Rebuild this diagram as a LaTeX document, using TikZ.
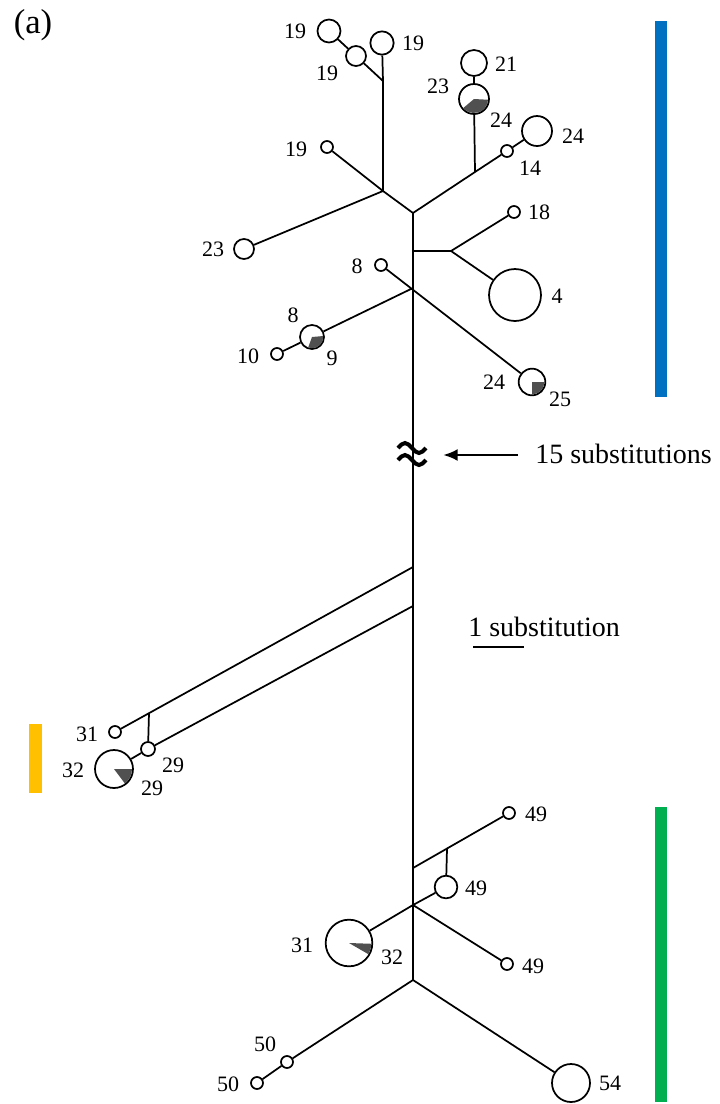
\documentclass[tikz,border=0pt]{standalone}
\usepackage{fontspec}
\setmainfont{Liberation Serif}
\usetikzlibrary{arrows.meta}
\definecolor{barblue}{HTML}{0070C0}
\definecolor{bargreen}{HTML}{00B050}
\definecolor{baryellow}{HTML}{FFC000}
\definecolor{piegray}{RGB}{80,80,80}
\begin{document}
\begin{tikzpicture}[x=0.75pt,y=-0.75pt,
  edge/.style={line width=1.3pt},
  hap/.style={circle,draw,line width=1.3pt,fill=white,inner sep=0pt,minimum size=#1},
  lbl/.style={font=\fontsize{16.5}{19}\selectfont,inner sep=0pt},
  big/.style={font=\fontsize{21}{25}\selectfont,inner sep=0pt},
  wedge/.style={fill=piegray}]
\useasboundingbox (0,0) rectangle (720,1104);

% group bars
\fill[barblue] (655,21) rectangle (667,397);
\fill[baryellow] (29,724) rectangle (42,793);
\fill[bargreen] (655,807) rectangle (667,1102);

\node[font=\fontsize{26}{30}\selectfont,inner sep=0pt] (panel) at (33,25) {(a)};

% median vectors / junctions
\coordinate (A) at (413,213);
\coordinate (B) at (383,191);
\coordinate (C) at (475,172);
\coordinate (D) at (383,81);
\coordinate (E) at (413,251);
\coordinate (F) at (451,251);
\coordinate (G) at (413,288);
\coordinate (H) at (413,567);
\coordinate (I) at (413,606);
\coordinate (J) at (149,713);
\coordinate (K) at (413,868);
\coordinate (L) at (447,849);
\coordinate (M) at (413,905);
\coordinate (N) at (413,980);

% haplotypes
\node[hap=17.25pt] (h19a) at (329,31) {};
\node[hap=15pt] (h19b) at (356,56) {};
\node[hap=17.5pt] (h19c) at (382,43) {};
\node[hap=9pt] (h19d) at (327,147) {};
\node[hap=15pt] (h23) at (244,249) {};
\node[hap=19.5pt] (h21) at (474,63) {};
\node[hap=22.5pt] (p2324) at (474,99) {};
\node[hap=9pt] (h14) at (507,151) {};
\node[hap=22.5pt] (h24) at (537,131) {};
\node[hap=9pt] (h18) at (514,212) {};
\node[hap=39pt] (h4) at (515,295) {};
\node[hap=9pt] (h8) at (381,265) {};
\node[hap=18pt] (p89) at (312,337) {};
\node[hap=9pt] (h10) at (277,354) {};
\node[hap=20pt] (p2425) at (532,382) {};
\node[hap=9pt] (h31) at (115,732) {};
\node[hap=10.5pt] (h29) at (148,749) {};
\node[hap=28.5pt] (p3229) at (114,769) {};
\node[hap=9pt] (h49a) at (509,813) {};
\node[hap=17pt] (h49b) at (446,887) {};
\node[hap=35pt] (p3132) at (349,943) {};
\node[hap=9pt] (h49c) at (507,964) {};
\node[hap=9pt] (h50a) at (287,1062) {};
\node[hap=9pt] (h50b) at (257,1083) {};
\node[hap=28.5pt] (h54) at (571,1083) {};

% shared sectors of the pie charts
\fill[wedge] (p2324.center) -- ++(-140:10.5pt) arc[start angle=-140,end angle=-3,radius=10.5pt] -- cycle;
\fill[wedge] (p89.center) -- ++(-110:8.3pt) arc[start angle=-110,end angle=5,radius=8.3pt] -- cycle;
\fill[wedge] (p2425.center) -- ++(-90:9.3pt) arc[start angle=-90,end angle=0,radius=9.3pt] -- cycle;
\fill[wedge] (p3229.center) -- ++(-53:13.5pt) arc[start angle=-53,end angle=0,radius=13.5pt] -- cycle;
\fill[wedge] (p3132.center) -- ++(-30:16.8pt) arc[start angle=-30,end angle=-2,radius=16.8pt] -- cycle;

% network edges
\draw[edge] (A) -- (N);
\draw[edge] (A) -- (B) (A) -- (C) (B) -- (D) (D) -- (h19c) (D) -- (h19b) (h19b) -- (h19a)
  (B) -- (h19d) (B) -- (h23) (C) -- (p2324) (p2324) -- (h21) (C) -- (h14) (h14) -- (h24);
\draw[edge] (E) -- (F) (F) -- (h18) (F) -- (h4);
\draw[edge] (h8) -- (p2425) (G) -- (p89) (p89) -- (h10);
\draw[edge] (H) -- (h31) (J) -- (h29) (I) -- (h29) (h29) -- (p3229);
\draw[edge] (K) -- (h49a) (L) -- (h49b) (M) -- (h49b) (M) -- (p3132) (M) -- (h49c);
\draw[edge] (N) -- (h50a) (h50a) -- (h50b) (N) -- (h54);

% break mark on the trunk
\draw[line width=3pt] (398,448) sin (405,443) cos (412,448) sin (419,453) cos (426,448);
\draw[line width=3pt] (398,460) sin (405,455) cos (412,460) sin (419,465) cos (426,460);

% long-branch note and scale
\coordinate (arrTail) at (518,455);
\coordinate (arrTip) at (443,455);
\draw[line width=2pt,-{Latex[length=11pt,width=9pt]}] (arrTail) -- (arrTip);
\node[big,anchor=base west] (t15) at (535,463) {15 substitutions};
\node[big,anchor=base west] (t1) at (468,636) {1 substitution};
\coordinate (sbL) at (473,647);
\coordinate (sbR) at (524,647);
\draw[line width=1.5pt] (sbL) -- (sbR);

% haplotype labels
\node[lbl] (l1) at (295,31) {19};
\node[lbl] (l2) at (413,43) {19};
\node[lbl] (l3) at (327,73) {19};
\node[lbl] (l4) at (296,149) {19};
\node[lbl] (l5) at (506,64) {21};
\node[lbl] (l6) at (438,86) {23};
\node[lbl] (l7) at (501,120) {24};
\node[lbl] (l8) at (573,136) {24};
\node[lbl] (l9) at (530,168) {14};
\node[lbl] (l10) at (539,212) {18};
\node[lbl] (l11) at (213,249) {23};
\node[lbl] (l12) at (357,266) {8};
\node[lbl] (l13) at (557,296) {4};
\node[lbl] (l14) at (293,315) {8};
\node[lbl] (l15) at (248,356) {10};
\node[lbl] (l16) at (332,358) {9};
\node[lbl] (l17) at (494,382) {24};
\node[lbl] (l18) at (560,399) {25};
\node[lbl] (l19) at (87,734) {31};
\node[lbl] (l20) at (73,770) {32};
\node[lbl] (l21) at (173,765) {29};
\node[lbl] (l22) at (152,788) {29};
\node[lbl] (l23) at (536,814) {49};
\node[lbl] (l24) at (476,888) {49};
\node[lbl] (l25) at (302,945) {31};
\node[lbl] (l26) at (392,957) {32};
\node[lbl] (l27) at (533,966) {49};
\node[lbl] (l28) at (265,1044) {50};
\node[lbl] (l29) at (228,1084) {50};
\node[lbl] (l30) at (610,1083) {54};
\end{tikzpicture}
\end{document}
